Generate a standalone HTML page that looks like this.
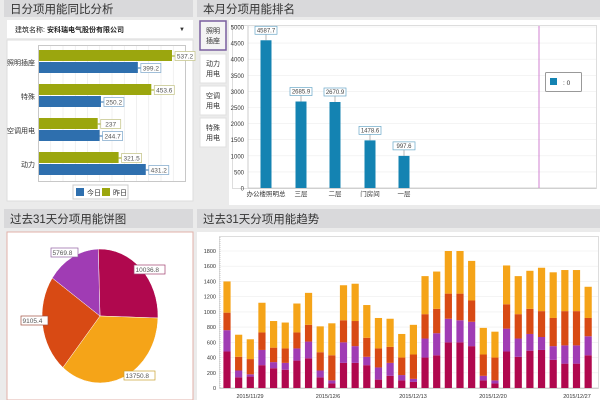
<!DOCTYPE html>
<html><head><meta charset="utf-8">
<style>
body{margin:0;width:600px;height:400px;overflow:hidden;background:#ebebeb;font-family:"Liberation Sans","Noto Sans CJK SC",sans-serif;}
svg{position:absolute;left:0;top:0}
</style></head><body>
<svg id="s" width="600" height="400" viewBox="0 0 600 400" font-family="Liberation Sans, Noto Sans CJK SC, sans-serif">
<rect x="4" y="0" width="189" height="17" fill="#d9d9db"/>
<text x="10" y="13" font-size="11.5" fill="#333">日分项用能同比分析</text>
<rect x="197" y="0" width="403" height="17" fill="#d9d9db"/>
<text x="203" y="13" font-size="11.5" fill="#333">本月分项用能排名</text>
<rect x="4" y="209" width="189" height="19" fill="#d9d9db"/>
<text x="10" y="223" font-size="11.5" fill="#333">过去31天分项用能饼图</text>
<rect x="197" y="209" width="403" height="19" fill="#d9d9db"/>
<text x="203" y="223" font-size="11.5" fill="#333">过去31天分项用能趋势</text>

<rect x="7" y="20" width="186" height="18" fill="#fff"/>
<text x="15" y="32" font-size="7" fill="#222">建筑名称:</text>
<text x="47" y="32" font-size="7" fill="#222" font-weight="bold">安科瑞电气股份有限公司</text>
<text x="179" y="31" font-size="6" fill="#333">▼</text>
<rect x="7" y="40" width="186" height="161" fill="#fff" stroke="#ddd"/>
<rect x="38.5" y="45.5" width="147" height="136" fill="#fff" stroke="#c8c8c8"/>
<g id="vg" stroke="#e6e6e6" stroke-width="0.6"></g>
<g font-size="7" fill="#333" text-anchor="end">
<text x="35" y="65">照明插座</text><text x="35" y="99">特殊</text><text x="35" y="133">空调用电</text><text x="35" y="167">动力</text></g>
<g id="hb"></g>
<rect x="76" y="188" width="8" height="8" fill="#2e6fae"/><text x="87" y="195" font-size="7" fill="#333">今日</text>
<rect x="102" y="188" width="8" height="8" fill="#9ba60e"/><text x="113" y="195" font-size="7" fill="#333">昨日</text>
<rect x="73" y="185" width="55" height="14" fill="none" stroke="#ccc"/>

<rect x="229" y="20" width="371" height="185" fill="#fff"/>
<g font-size="7" fill="#333" text-anchor="middle">
<rect x="200" y="21" width="26" height="29" fill="#f4f4f4" stroke="#7a5fa0" stroke-width="1.5"/><text x="213" y="33">照明</text><text x="213" y="43">插座</text>
<rect x="200" y="54" width="26" height="29" fill="#fff" stroke="#e0e0e0"/><text x="213" y="66">动力</text><text x="213" y="76">用电</text>
<rect x="200" y="86" width="26" height="29" fill="#fff" stroke="#e0e0e0"/><text x="213" y="98">空调</text><text x="213" y="108">用电</text>
<rect x="200" y="118" width="26" height="29" fill="#fff" stroke="#e0e0e0"/><text x="213" y="130">特殊</text><text x="213" y="140">用电</text>
</g>
<rect x="232.5" y="25.5" width="364" height="163" fill="none" stroke="#ddd"/>
<g id="rk"></g>
<line x1="539" y1="26" x2="539" y2="188" stroke="#d080d0" stroke-width="1"/>
<rect x="545.5" y="72.5" width="36" height="19" fill="#fff" stroke="#999" rx="1"/>
<rect x="550" y="78" width="7" height="7" fill="#1483b2"/><text x="563" y="85" font-size="6.5" fill="#333">: 0</text>

<rect x="7" y="232" width="186" height="168" fill="#fff" stroke="#e0b0a8"/>
<g id="pie"></g>

<rect x="197" y="232" width="403" height="168" fill="#fff"/>
<rect x="219.5" y="236.5" width="379" height="152" fill="none" stroke="#ddd"/>
<g id="tr"></g>
</svg>
<script>
const NS="http://www.w3.org/2000/svg";
function el(p,t,a,txt){const e=document.createElementNS(NS,t);for(const k in a)e.setAttribute(k,a[k]);if(txt!==undefined)e.textContent=txt;document.getElementById(p).appendChild(e);return e;}
for(let i=1;i<12;i++){const x=38.5+i*12.25;el('vg','line',{x1:x,y1:46,x2:x,y2:181});}
const hb=[[537.2,399.2,56],[453.6,250.2,90],[237,244.7,124],[321.5,431.2,158]];
const k=0.2476;
hb.forEach(([y,t,yy])=>{
 const wy=y*k,wt=t*k;
 el('hb','rect',{x:39,y:yy-6,width:wy,height:11,fill:'#9ba60e'});
 el('hb','rect',{x:39,y:yy+6,width:wt,height:11,fill:'#2e6fae'});
 el('hb','line',{x1:39+wy,y1:yy,x2:39+wy+3,y2:yy,stroke:'#9ba60e'});
 el('hb','rect',{x:39+wy+3,y:yy-4.5,width:20,height:9,fill:'#fff',stroke:'#c8c890','stroke-width':0.8});
 el('hb','text',{x:39+wy+13,y:yy+2.5,'font-size':6.5,'text-anchor':'middle',fill:'#555'},String(y));
 el('hb','line',{x1:39+wt,y1:yy+12,x2:39+wt+3,y2:yy+12,stroke:'#2e6fae'});
 el('hb','rect',{x:39+wt+3,y:yy+7.5,width:20,height:9,fill:'#fff',stroke:'#8ab0d0','stroke-width':0.8});
 el('hb','text',{x:39+wt+13,y:yy+14.5,'font-size':6.5,'text-anchor':'middle',fill:'#555'},String(t));
});
const y0=188,sc=161/5000;
for(let v=0;v<=5000;v+=500){const y=y0-v*sc;
 if(v>0)el('rk','line',{x1:248,y1:y,x2:596,y2:y,stroke:'#eee','stroke-width':0.6});
 el('rk','text',{x:244,y:y+2.5,'font-size':6,'text-anchor':'end',fill:'#333'},String(v));}
el('rk','line',{x1:248,y1:26,x2:248,y2:188,stroke:'#aaa','stroke-width':0.6});
el('rk','line',{x1:248,y1:188,x2:596,y2:188,stroke:'#aaa','stroke-width':0.6});
const rk=[[4587.7,266,'办公楼照明总'],[2685.9,301,'三层'],[2670.9,335,'二层'],[1478.6,370,'门房间'],[997.6,404,'一层']];
rk.forEach(([v,x,l])=>{const h=v*sc;
 el('rk','rect',{x:x-5.5,y:y0-h,width:11,height:h,fill:'#1483b2'});
 el('rk','line',{x1:x,y1:y0-h,x2:x,y2:y0-h-6,stroke:'#888','stroke-width':0.6});
 el('rk','rect',{x:x-11,y:y0-h-14,width:22,height:8,fill:'#fff',stroke:'#6aa8c8','stroke-width':0.7});
 el('rk','text',{x:x,y:y0-h-8,'font-size':6,'text-anchor':'middle',fill:'#444'},String(v));
 el('rk','text',{x:x,y:196,'font-size':6.5,'text-anchor':'middle',fill:'#333'},l);});
const cx=100,cy=316,rx=58,ry=67;
const pv=[[10036.8,'#b0084e','#a04070'],[13750.8,'#f5a418','#c8a030'],[9105.4,'#d84a14','#a05040'],[5769.8,'#a03cb4','#9060a0']];
const tot=pv.reduce((a,b)=>a+b[0],0);let a=-Math.PI/2-0.03;
const lab=[[134,272,'10036.8'],[124,378,'13750.8'],[21,323,'9105.4'],[51,255,'5769.8']];
pv.forEach(([v,c,b],i)=>{const da=v/tot*2*Math.PI,a2=a+da;
 const x1=cx+rx*Math.cos(a),y1=cy+ry*Math.sin(a),x2=cx+rx*Math.cos(a2),y2=cy+ry*Math.sin(a2);
 el('pie','path',{d:`M${cx},${cy}L${x1},${y1}A${rx},${ry} 0 ${da>Math.PI?1:0} 1 ${x2},${y2}Z`,fill:c,stroke:'#fff','stroke-width':0.5});
 const [lx,ly,t]=lab[i];
 el('pie','rect',{x:lx,y:ly-7,width:t.length*4+3,height:9,fill:'#fff',stroke:b,'stroke-width':0.7});
 el('pie','text',{x:lx+1.5,y:ly,'font-size':6.5,fill:'#555'},t);
 a=a2;});
const d=[[480,760,990,1400],[140,230,410,700],[150,180,380,640],[300,500,730,1120],[260,340,530,880],[240,330,520,860],[360,520,730,1110],[390,610,830,1250],[140,230,470,810],[60,100,430,850],[330,600,890,1350],[330,550,880,1370],[300,410,660,1090],[110,270,520,920],[160,330,540,910],[100,170,400,710],[80,120,440,830],[400,650,970,1470],[430,720,1040,1530],[600,910,1240,1800],[600,890,1240,1800],[550,870,1150,1670],[100,160,440,790],[60,100,400,740],[480,780,1100,1610],[410,650,970,1470],[490,710,1040,1540],[500,670,1010,1580],[370,550,920,1520],[320,560,1010,1550],[320,560,1010,1550],[430,680,920,1330]];
const ty0=388,ts=137/1800,cols=['#b0084e','#a03cb4','#d84a14','#f5a418'];
for(let v=0;v<=1800;v+=200){const y=ty0-v*ts;
 if(v>0)el('tr','line',{x1:220,y1:y,x2:598,y2:y,stroke:'#eee','stroke-width':0.6});
 el('tr','text',{x:216,y:y+2,'font-size':5.5,'text-anchor':'end',fill:'#333'},String(v));}
el('tr','line',{x1:220,y1:237,x2:220,y2:388,stroke:'#aaa','stroke-width':0.6,'stroke-dasharray':'1,1'});
el('tr','line',{x1:220,y1:388,x2:598,y2:388,stroke:'#aaa','stroke-width':0.6});
d.forEach((s,i)=>{const x=227+i*11.65;let p=0;
 s.forEach((v,j)=>{el('tr','rect',{x:x-3.6,y:ty0-v*ts,width:7.2,height:(v-p)*ts,fill:cols[j]});p=v;});});
[['2015/11/29',250],['2015/12/6',328],['2015/12/13',413],['2015/12/20',493],['2015/12/27',577]].forEach(([t,x])=>el('tr','text',{x:x,y:398,'font-size':5.5,'text-anchor':'middle',fill:'#333'},t));
</script>
</body></html>
